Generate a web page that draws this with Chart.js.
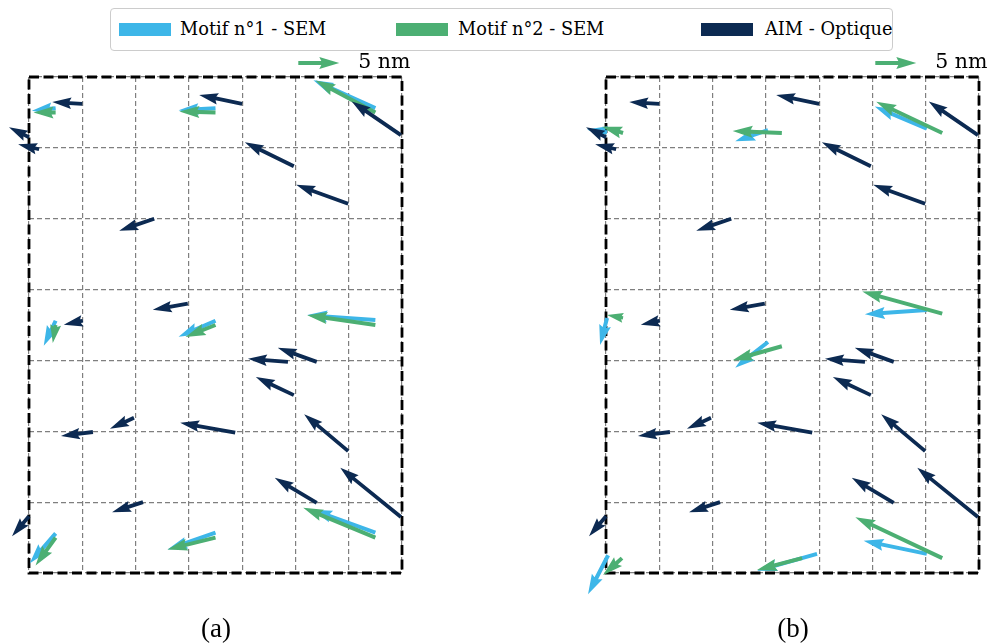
<!DOCTYPE html>
<html>
<head>
<meta charset="utf-8">
<script src="https://cdn.jsdelivr.net/npm/chart.js@4.4.1/dist/chart.umd.min.js"></script>
<style>
  body { margin: 0; width: 990px; height: 644px; background: #fff; position: relative; overflow: hidden; font-family: "DejaVu Serif", serif; }
  canvas { position: absolute; top: 50px; }
  #chart-a { left: 0; }
  #chart-b { left: 560px; }
  #legend { position: absolute; left: 110px; top: 8px; width: 783px; height: 43px; border: 1px solid #cccccc; border-radius: 4px; box-sizing: border-box; }
  .patch { position: absolute; top: 14px; width: 52px; height: 13px; }
  .lbl { position: absolute; top: 9px; font-size: 17.8px; color: #000; white-space: nowrap; }
  .cap { position: absolute; top: 613px; width: 60px; text-align: center; font-family: "Liberation Serif", serif; font-size: 27px; }
</style>
</head>
<body>
<div id="legend">
  <div class="patch" style="left:8px;background:#3db6e8"></div><div class="lbl" style="left:69px">Motif n°1 - SEM</div>
  <div class="patch" style="left:285px;background:#4caf73"></div><div class="lbl" style="left:347px">Motif n°2 - SEM</div>
  <div class="patch" style="left:590px;background:#0c2a52"></div><div class="lbl" style="left:654px">AIM - Optique</div>
</div>
<canvas id="chart-a" width="430" height="570"></canvas>
<canvas id="chart-b" width="430" height="570"></canvas>
<div class="cap" style="left:186px">(a)</div>
<div class="cap" style="left:763px">(b)</div>
<script>
// grid units (7 x 7 cells), vectors in nm
const KEY_NM = 5;
const NM_PER_UNIT = 6.5;   // 5 nm ~ 0.77 cell width

// AIM - Optique (same in both panels)
const AIM_X = [1.0, 4.0, 6.98, 4.97, 5.99, 2.35, 0.0, 0.19, 1.01, 2.98, 1.2, 1.97, 5.4, 4.86, 4.97, 3.87, 5.99, 2.14, 0.0, 5.4, 6.98];
const AIM_Y = [6.62, 6.62, 6.18, 5.74, 5.21, 5.0, 6.15, 5.98, 3.56, 3.8, 1.99, 2.19, 2.98, 2.98, 2.51, 1.98, 1.72, 1.0, 0.8, 0.99, 0.79];
const AIM_U = [-3.66, -5.24, -6.0, -5.98, -6.34, -4.27, -2.44, -2.56, -2.32, -4.27, -3.9, -2.93, -4.76, -4.88, -4.63, -6.71, -5.37, -3.78, -2.07, -5.12, -7.4];
const AIM_V = [0.24, 1.1, 4.1, 2.93, 2.32, -1.46, 1.22, 0.61, -0.49, -0.73, -0.49, -1.34, 1.71, 0.37, 2.2, 1.22, 4.51, -1.22, -2.44, 3.05, 6.0];

// panel (a)
const A_M1_X = [0.5, 3.5, 6.5, 0.5, 3.5, 6.5, 0.5, 3.5, 6.5];
const A_M1_Y = [6.56, 6.56, 6.56, 3.56, 3.56, 3.57, 0.56, 0.57, 0.57];
const A_M1_U = [-2.9, -4.5, -7.55, -1.45, -4.5, -8.3, -3.15, -5.85, -7.7];
const A_M1_V = [-0.3, -0.25, 3.4, -3.05, -1.95, 0.6, -3.65, -2.05, 2.8];

const A_M2_X = [0.5, 3.5, 6.5, 0.5, 3.5, 6.5, 0.5, 3.5, 6.5];
const A_M2_Y = [6.5, 6.5, 6.5, 3.5, 3.5, 3.5, 0.5, 0.5, 0.5];
const A_M2_U = [-2.7, -4.4, -7.3, -0.35, -3.65, -8.3, -2.45, -5.85, -8.8];
const A_M2_V = [0.0, 0.1, 3.9, -2.2, -1.45, 1.2, -3.4, -1.45, 3.65];

// panel (b)
const B_M1_X = [0.02, 3.04, 6.02, 0.02, 3.04, 6.02, 0.04, 3.96, 6.02];
const B_M1_Y = [6.22, 6.25, 6.27, 3.6, 3.26, 3.71, 0.25, 0.27, 0.27];
const B_M1_U = [-2.45, -4.0, -6.35, -0.85, -4.0, -7.55, -2.45, -7.3, -7.7];
const B_M1_V = [0.35, -1.35, 2.7, -3.3, -3.15, -0.5, -4.75, -2.05, 1.6];

const B_M2_X = [0.32, 3.3, 6.31, 0.32, 3.3, 6.31, 0.3, 3.68, 6.31];
const B_M2_Y = [6.21, 6.21, 6.21, 3.6, 3.2, 3.66, 0.21, 0.21, 0.21];
const B_M2_U = [-2.55, -6.0, -8.05, -1.95, -6.0, -9.75, -2.3, -5.5, -10.6];
const B_M2_V = [0.75, 0.25, 3.8, 0.35, -1.7, 2.7, -2.05, -1.45, 5.0];

const COLORS = { m1: "#3db6e8", m2: "#4caf73", aim: "#0c2a52" };

function zip(xs, ys) {
  return xs.map((x, i) => ({ x: x, y: ys[i] }));
}

// matplotlib-style quiver arrow, tail at (x0, y0)
function drawArrow(ctx, x0, y0, dx, dy, w, color) {
  const len = Math.hypot(dx, dy) / w;
  if (len < 0.01) return;
  const hl = 5, hal = 4.5, hw = 3;
  let pts;
  if (len < hl) {
    const s = len / hl;
    pts = [[0, 0.5], [hl - hal, 0.5], [0, hw / 2], [hl, 0], [0, -hw / 2], [hl - hal, -0.5], [0, -0.5]]
      .map(p => [p[0] * s, p[1] * s]);
  } else {
    pts = [[0, 0.5], [len - hal, 0.5], [len - hl, hw / 2], [len, 0], [len - hl, -hw / 2], [len - hal, -0.5], [0, -0.5]];
  }
  const a = Math.atan2(dy, dx);
  ctx.save();
  ctx.translate(x0, y0);
  ctx.rotate(a);
  ctx.scale(w, w);
  ctx.beginPath();
  pts.forEach((p, i) => i ? ctx.lineTo(p[0], p[1]) : ctx.moveTo(p[0], p[1]));
  ctx.closePath();
  ctx.fillStyle = color;
  ctx.fill();
  ctx.restore();
}

const quiverPlugin = {
  id: "quiver",
  beforeDatasetsDraw(chart) {
    const { ctx, chartArea: a } = chart;
    ctx.save();
    ctx.strokeStyle = "#000";
    ctx.lineWidth = 2.8;
    ctx.setLineDash([10, 4.5]);
    ctx.strokeRect(a.left, a.top, a.right - a.left, a.bottom - a.top);
    ctx.restore();
  },
  afterDatasetsDraw(chart) {
    const ctx = chart.ctx;
    const xs = chart.scales.x;
    const pxPerNm = (xs.getPixelForValue(1) - xs.getPixelForValue(0)) / NM_PER_UNIT;
    chart.data.datasets.forEach((ds, di) => {
      const meta = chart.getDatasetMeta(di);
      meta.data.forEach((pt, i) => {
        drawArrow(ctx, pt.x, pt.y, ds.u[i] * pxPerNm, -ds.v[i] * pxPerNm, ds.shaft, ds.borderColor);
      });
    });
  },
  afterDraw(chart) {
    const { ctx, chartArea: a } = chart;
    const xs = chart.scales.x;
    const pxPerNm = (xs.getPixelForValue(1) - xs.getPixelForValue(0)) / NM_PER_UNIT;
    const kx = a.left + 0.722 * (a.right - a.left);
    const ky = a.top - 14;
    drawArrow(ctx, kx, ky, KEY_NM * pxPerNm, 0, 4.0, COLORS.m2);
    ctx.save();
    ctx.fillStyle = "#000";
    ctx.font = '20.5px "DejaVu Serif"';
    ctx.textBaseline = "middle";
    ctx.fillText(KEY_NM + " nm", kx + KEY_NM * pxPerNm + 19, ky);
    ctx.restore();
  }
};

function makePanel(id, m1, m2, padding) {
  const datasets = [
    { label: "Motif n°1 - SEM", data: zip(m1[0], m1[1]), u: m1[2], v: m1[3], borderColor: COLORS.m1, shaft: 4.0 },
    { label: "Motif n°2 - SEM", data: zip(m2[0], m2[1]), u: m2[2], v: m2[3], borderColor: COLORS.m2, shaft: 4.0 },
    { label: "AIM - Optique", data: zip(AIM_X, AIM_Y), u: AIM_U, v: AIM_V, borderColor: COLORS.aim, shaft: 3.8 }
  ];
  const axis = {
    type: "linear", min: 0, max: 7,
    ticks: { display: false, stepSize: 1 },
    grid: { color: "#7f7f7f", lineWidth: 1.2, drawTicks: false },
    border: { display: false, dash: [5, 3] }
  };
  return new Chart(document.getElementById(id), {
    type: "scatter",
    data: { datasets: datasets },
    options: {
      responsive: false,
      animation: false,
      elements: { point: { radius: 0, hoverRadius: 0 } },
      layout: { padding: padding },
      plugins: { legend: { display: false }, tooltip: { enabled: false } },
      scales: { x: axis, y: Object.assign({}, axis) }
    },
    plugins: [quiverPlugin]
  });
}

makePanel("chart-a", [A_M1_X, A_M1_Y, A_M1_U, A_M1_V], [A_M2_X, A_M2_Y, A_M2_U, A_M2_V],
  { left: 29, top: 27, right: 28, bottom: 47 });
makePanel("chart-b", [B_M1_X, B_M1_Y, B_M1_U, B_M1_V], [B_M2_X, B_M2_Y, B_M2_U, B_M2_V],
  { left: 46, top: 27, right: 11, bottom: 47 });
</script>
</body>
</html>
